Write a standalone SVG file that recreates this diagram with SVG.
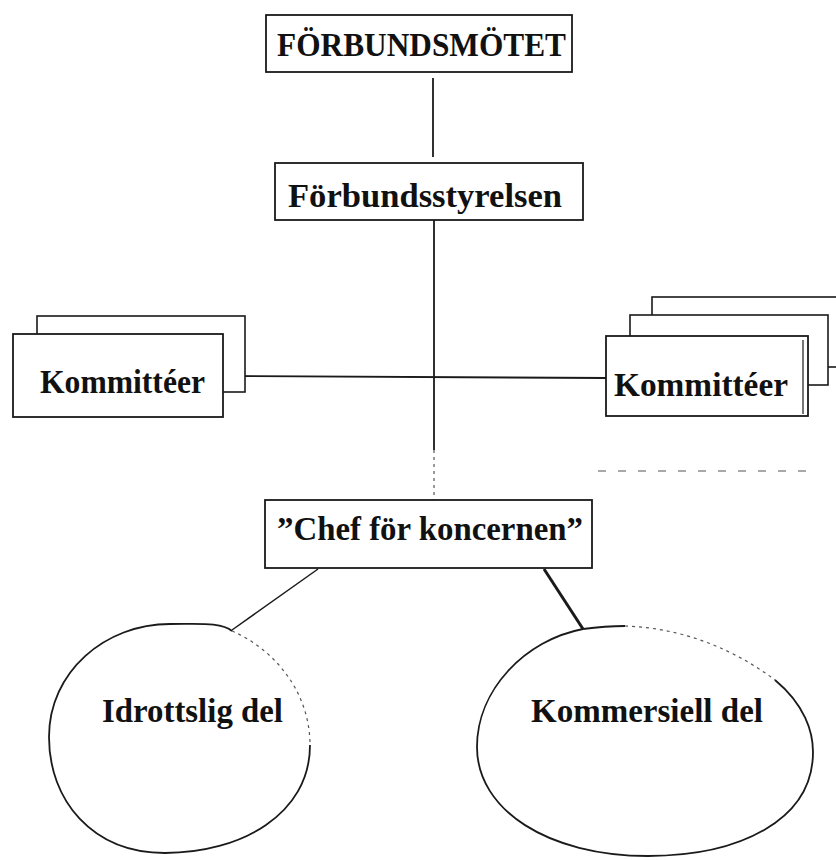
<svg xmlns="http://www.w3.org/2000/svg" width="836" height="860" viewBox="0 0 836 860">
<style>
.box{fill:#fff;stroke:#1a1a1a;stroke-width:1.8}
.back{fill:#fff;stroke:#1a1a1a;stroke-width:1.6}
.t{font-family:"Liberation Serif","Times New Roman",serif;font-weight:bold;font-size:34px;fill:#111}
.ln{stroke:#1a1a1a;stroke-width:1.8;fill:none}
.faint{stroke:#555;stroke-width:1.2;fill:none;stroke-dasharray:3 4}
.oval{fill:none;stroke:#1a1a1a;stroke-width:1.8}
</style>
<rect width="836" height="860" fill="#fff"/>
<g id="connectors">
<line class="ln" x1="433" y1="78" x2="433" y2="157"/>
<line class="ln" x1="434" y1="220" x2="434" y2="450"/>
<line class="faint" x1="434" y1="450" x2="434" y2="500"/>
<line class="ln" x1="223" y1="376" x2="606" y2="378"/>
<line class="faint" x1="598" y1="471" x2="812" y2="471" style="stroke-dasharray:8 12"/>
<line class="ln" x1="318" y1="569" x2="232" y2="630" style="stroke-width:1.5"/>
<line class="ln" x1="544" y1="569" x2="583" y2="629" style="stroke-width:3"/>
</g>
<g id="forbundsmotet">
<rect class="box" x="266" y="15" width="306" height="57"/>
<text class="t" x="277" y="56" textLength="289" lengthAdjust="spacingAndGlyphs">FÖRBUNDSMÖTET</text>
</g>
<g id="forbundsstyrelsen">
<rect class="box" x="275" y="163" width="308" height="57"/>
<text class="t" x="288" y="207" textLength="274" lengthAdjust="spacingAndGlyphs">Förbundsstyrelsen</text>
</g>
<g id="kommitteer-left">
<rect class="back" x="37" y="316" width="208" height="76"/>
<rect class="box" x="13" y="334" width="210" height="83"/>
<text class="t" x="40" y="393" textLength="165" lengthAdjust="spacingAndGlyphs">Kommittéer</text>
</g>
<g id="kommitteer-right">
<rect class="back" x="652" y="297" width="200" height="70"/>
<rect class="back" x="630" y="315" width="198" height="70"/>
<rect class="box" x="606" y="336" width="202" height="80"/>
<line class="ln" x1="803" y1="340" x2="803" y2="414" style="stroke-width:1.2"/>
<text class="t" x="614" y="396" textLength="174" lengthAdjust="spacingAndGlyphs">Kommittéer</text>
</g>
<g id="chef">
<rect class="box" x="265" y="500" width="327" height="68"/>
<text class="t" x="277" y="540" textLength="306" lengthAdjust="spacingAndGlyphs">”Chef för koncernen”</text>
</g>
<g id="idrottslig">
<path class="faint" d="M232,631 C272,648 310,690 310,745"/>
<path class="oval" d="M310,745 C310,815 240,853 165,853 C92,853 49,800 49,737 C49,672 105,624 170,624 C200,624 222,622 232,631"/>
<text class="t" x="102" y="722" textLength="181" lengthAdjust="spacingAndGlyphs">Idrottslig del</text>
</g>
<g id="kommersiell">
<path class="oval" d="M583,629 C598,627 612,626 625,626"/>
<path class="faint" d="M625,626 C684,628 735,650 775,680"/>
<path class="oval" d="M775,680 C805,705 813,732 813,752 C813,820 740,856 648,856 C548,856 477,810 477,747 C477,690 525,640 583,629"/>
<text class="t" x="531" y="722" textLength="232" lengthAdjust="spacingAndGlyphs">Kommersiell del</text>
</g>
</svg>
